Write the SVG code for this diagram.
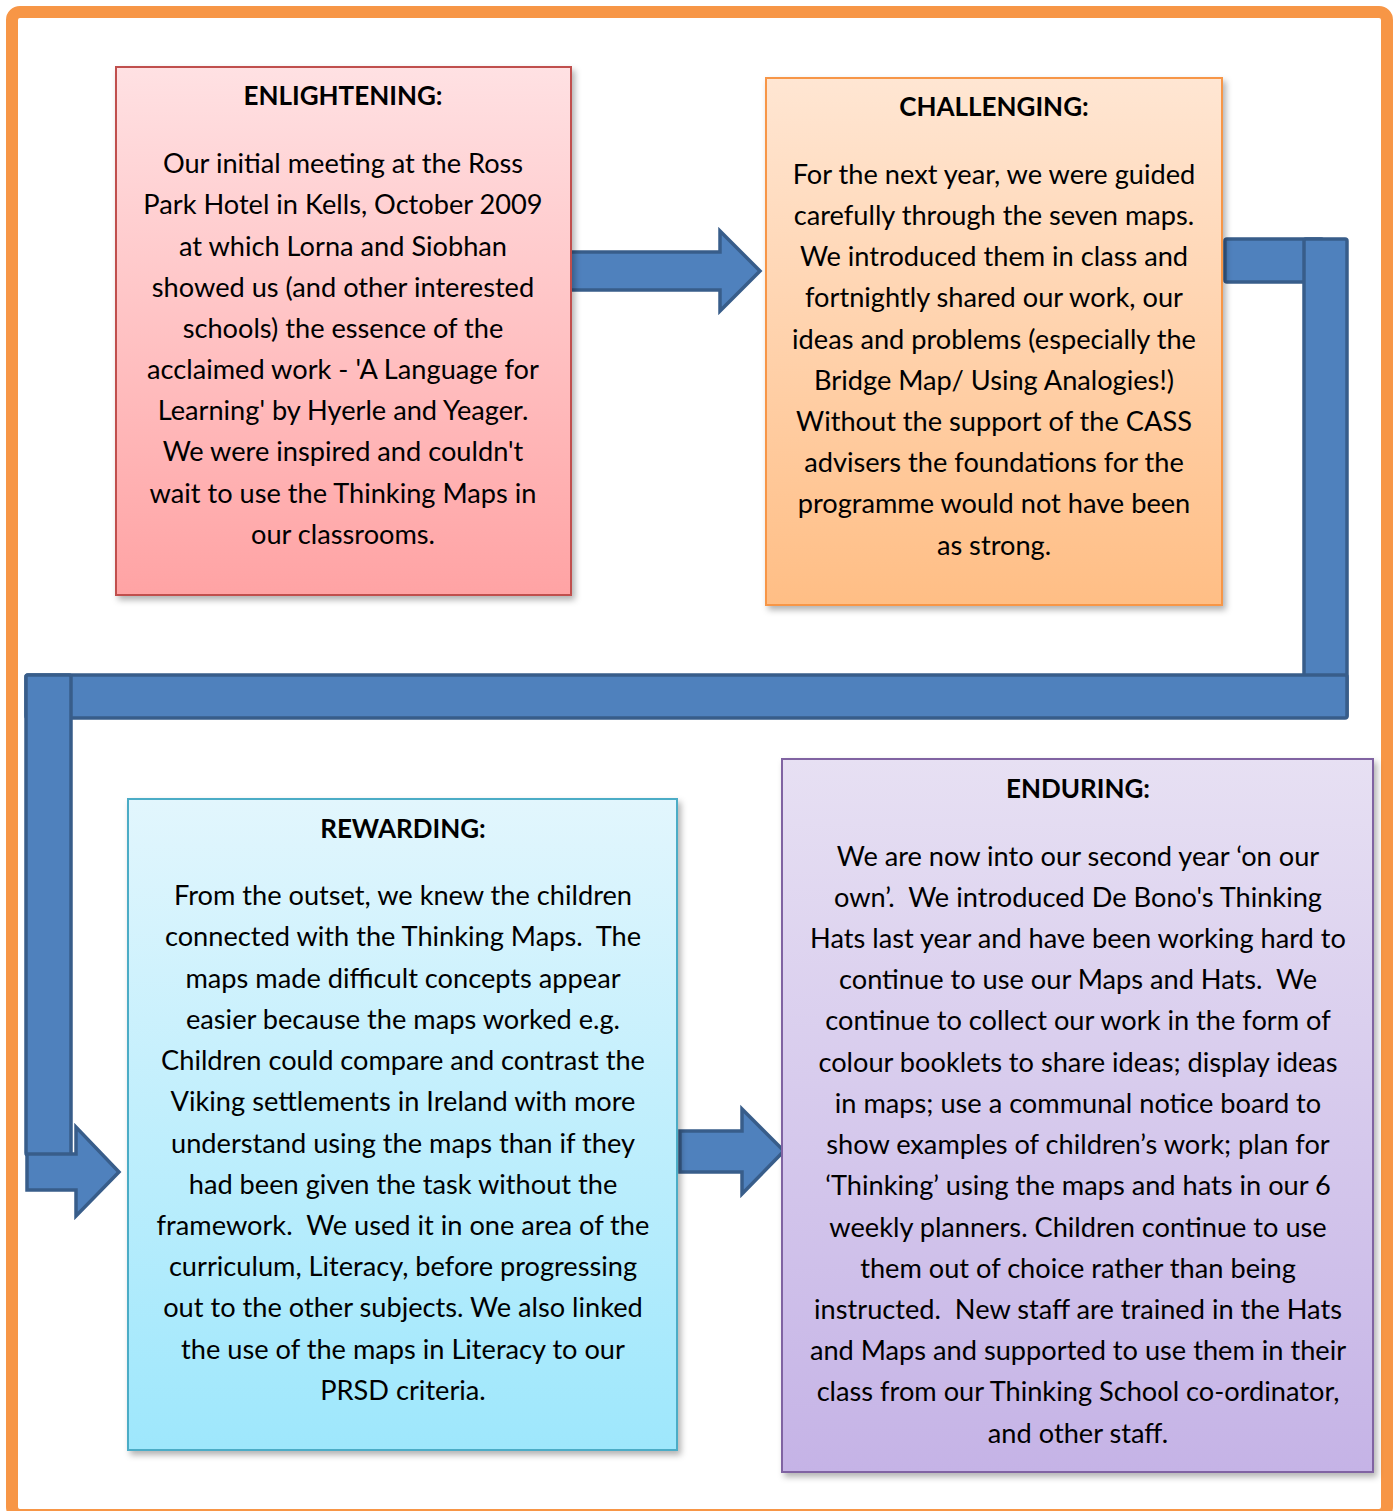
<svg xmlns="http://www.w3.org/2000/svg" width="1398" height="1511" viewBox="0 0 1398 1511">
<style>
.t{font-family:Lato,"Open Sans","Liberation Sans",sans-serif;font-size:27.2px;fill:#000;text-anchor:middle;white-space:pre}
.h{font-weight:bold;font-size:26px}
.arrow{fill:#4F81BD;stroke:#385D8A;stroke-width:3.5;stroke-linejoin:miter}
</style>
<defs>
<linearGradient id="gRed" x1="0" y1="0" x2="0" y2="1"><stop offset="0" stop-color="#FFE1E3"/><stop offset="1" stop-color="#FFA3A4"/></linearGradient>
<linearGradient id="gOrange" x1="0" y1="0" x2="0" y2="1"><stop offset="0" stop-color="#FFE6D3"/><stop offset="1" stop-color="#FFBE85"/></linearGradient>
<linearGradient id="gBlue" x1="0" y1="0" x2="0" y2="1"><stop offset="0" stop-color="#E2F6FD"/><stop offset="1" stop-color="#9EE7FC"/></linearGradient>
<linearGradient id="gPurple" x1="0" y1="0" x2="0" y2="1"><stop offset="0" stop-color="#E7E0F3"/><stop offset="1" stop-color="#C5B3E6"/></linearGradient>
<filter id="sh" x="-5%" y="-5%" width="115%" height="115%"><feDropShadow dx="3" dy="4" stdDeviation="3" flood-color="#000" flood-opacity="0.3"/></filter>
</defs>
<rect x="0" y="0" width="1398" height="1511" fill="#fff"/>
<rect id="frame" x="12" y="12" width="1375" height="1503" rx="8" fill="none" stroke="#F79646" stroke-width="12"/>

<g id="connectors">
<path class="arrow" d="M570 252 H720 V231 L760 271 L720 311 V290 H570 Z"/>
<rect class="arrow" x="1225" y="239" width="98" height="43" rx="2"/>
<rect class="arrow" x="1304" y="239" width="43" height="478" rx="2"/>
<rect class="arrow" x="26" y="675" width="1321" height="43" rx="2"/>
<rect class="arrow" x="26" y="675" width="45" height="480" rx="2"/>
<path class="arrow" d="M27 1154 H76 V1127 L119 1172 L76 1216 V1190 H27 Z"/>
<path class="arrow" d="M680 1131 H742 V1109 L784 1151 L742 1194 V1172 H680 Z"/>
</g>

<g id="enlightening">
<rect x="116" y="67" width="455" height="528" fill="url(#gRed)" stroke="#C0504D" stroke-width="2" filter="url(#sh)"/>
<text class="t h" x="343" y="105">ENLIGHTENING:</text>
<text class="t" x="343" y="173">Our initial meeting at the Ross</text>
<text class="t" x="343" y="214">Park Hotel in Kells, October 2009</text>
<text class="t" x="343" y="256">at which Lorna and Siobhan</text>
<text class="t" x="343" y="297">showed us (and other interested</text>
<text class="t" x="343" y="338">schools) the essence of the</text>
<text class="t" x="343" y="379">acclaimed work - 'A Language for</text>
<text class="t" x="343" y="420">Learning' by Hyerle and Yeager.</text>
<text class="t" x="343" y="461">We were inspired and couldn't</text>
<text class="t" x="343" y="503">wait to use the Thinking Maps in</text>
<text class="t" x="343" y="544">our classrooms.</text>
</g>

<g id="challenging">
<rect x="766" y="78" width="456" height="527" fill="url(#gOrange)" stroke="#F79646" stroke-width="2" filter="url(#sh)"/>
<text class="t h" x="994" y="116">CHALLENGING:</text>
<text class="t" x="994" y="184">For the next year, we were guided</text>
<text class="t" x="994" y="225">carefully through the seven maps.</text>
<text class="t" x="994" y="266">We introduced them in class and</text>
<text class="t" x="994" y="307">fortnightly shared our work, our</text>
<text class="t" x="994" y="349">ideas and problems (especially the</text>
<text class="t" x="994" y="390">Bridge Map/ Using Analogies!)</text>
<text class="t" x="994" y="431">Without the support of the CASS</text>
<text class="t" x="994" y="472">advisers the foundations for the</text>
<text class="t" x="994" y="513">programme would not have been</text>
<text class="t" x="994" y="555">as strong.</text>
</g>

<g id="rewarding">
<rect x="128" y="799" width="549" height="651" fill="url(#gBlue)" stroke="#4BACC6" stroke-width="2" filter="url(#sh)"/>
<text class="t h" x="403" y="838">REWARDING:</text>
<text class="t" x="403" y="905">From the outset, we knew the children</text>
<text class="t" x="403" y="946">connected with the Thinking Maps.  The</text>
<text class="t" x="403" y="988">maps made difficult concepts appear</text>
<text class="t" x="403" y="1029">easier because the maps worked e.g.</text>
<text class="t" x="403" y="1070">Children could compare and contrast the</text>
<text class="t" x="403" y="1111">Viking settlements in Ireland with more</text>
<text class="t" x="403" y="1153">understand using the maps than if they</text>
<text class="t" x="403" y="1194">had been given the task without the</text>
<text class="t" x="403" y="1235">framework.  We used it in one area of the</text>
<text class="t" x="403" y="1276">curriculum, Literacy, before progressing</text>
<text class="t" x="403" y="1317">out to the other subjects. We also linked</text>
<text class="t" x="403" y="1359">the use of the maps in Literacy to our</text>
<text class="t" x="403" y="1400">PRSD criteria.</text>
</g>

<g id="enduring">
<rect x="782" y="759" width="591" height="713" fill="url(#gPurple)" stroke="#8064A2" stroke-width="2" filter="url(#sh)"/>
<text class="t h" x="1078" y="798">ENDURING:</text>
<text class="t" x="1078" y="866">We are now into our second year ‘on our</text>
<text class="t" x="1078" y="907">own’.  We introduced De Bono's Thinking</text>
<text class="t" x="1078" y="948">Hats last year and have been working hard to</text>
<text class="t" x="1078" y="989">continue to use our Maps and Hats.  We</text>
<text class="t" x="1078" y="1030">continue to collect our work in the form of</text>
<text class="t" x="1078" y="1072">colour booklets to share ideas; display ideas</text>
<text class="t" x="1078" y="1113">in maps; use a communal notice board to</text>
<text class="t" x="1078" y="1154">show examples of children’s work; plan for</text>
<text class="t" x="1078" y="1195">‘Thinking’ using the maps and hats in our 6</text>
<text class="t" x="1078" y="1237">weekly planners. Children continue to use</text>
<text class="t" x="1078" y="1278">them out of choice rather than being</text>
<text class="t" x="1078" y="1319">instructed.  New staff are trained in the Hats</text>
<text class="t" x="1078" y="1360">and Maps and supported to use them in their</text>
<text class="t" x="1078" y="1401">class from our Thinking School co-ordinator,</text>
<text class="t" x="1078" y="1443">and other staff.</text>
</g>
</svg>
